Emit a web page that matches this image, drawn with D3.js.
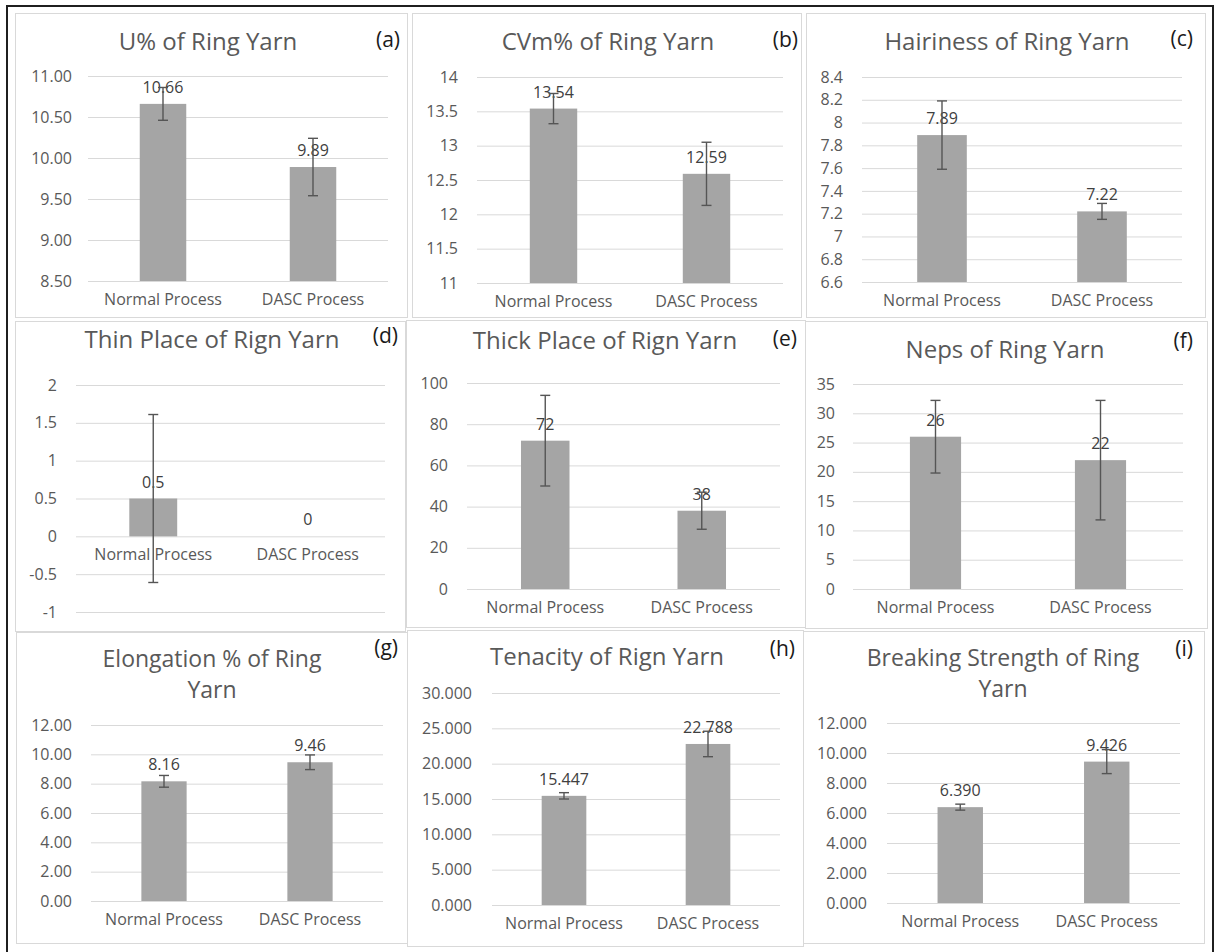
<!DOCTYPE html>
<html lang="en">
<head>
  <meta charset="UTF-8">
  <title>Ring Yarn Properties</title>
  <style>
    body { margin: 0; background: #fff; }
    svg { display: block; font-family: "Open Sans", sans-serif; }
  </style>
</head>
<body>
  <script src="https://d3js.org/d3.v7.min.js"></script>
  <script>
    // categories shared by all nine panels
    const categories = ['Normal Process', 'DASC Process']

    const titles = [
      ['U% of Ring Yarn'], ['CVm% of Ring Yarn'], ['Hairiness of Ring Yarn'],
      ['Thin Place of Rign Yarn'], ['Thick Place of Rign Yarn'], ['Neps of Ring Yarn'],
      ['Elongation % of Ring', 'Yarn'], ['Tenacity of Rign Yarn'], ['Breaking Strength of Ring', 'Yarn']
    ]
    const letters = ['(a)', '(b)', '(c)', '(d)', '(e)', '(f)', '(g)', '(h)', '(i)']

    // values, error bar half-lengths and y ticks per panel
    const uPct = [10.66, 9.89]
    const uPctErr = [0.2, 0.35]
    const uPctTicks = [8.5, 9, 9.5, 10, 10.5, 11]

    const cvm = [13.54, 12.59]
    const cvmErr = [0.22, 0.46]
    const cvmTicks = [11, 11.5, 12, 12.5, 13, 13.5, 14]

    const hairiness = [7.89, 7.22]
    const hairinessErr = [0.3, 0.07]
    const hairinessTicks = [6.6, 6.8, 7, 7.2, 7.4, 7.6, 7.8, 8, 8.2, 8.4]

    const thinPlace = [0.5, 0]
    const thinPlaceErr = [1.11, 0]
    const thinPlaceTicks = [-1, -0.5, 0, 0.5, 1, 1.5, 2]

    const thickPlace = [72, 38]
    const thickPlaceErr = [22, 9]
    const thickPlaceTicks = [0, 20, 40, 60, 80, 100]

    const neps = [26, 22]
    const nepsErr = [6.2, 10.2]
    const nepsTicks = [0, 5, 10, 15, 20, 25, 30, 35]

    const elongation = [8.16, 9.46]
    const elongationErr = [0.4, 0.5]
    const elongationTicks = [0, 2, 4, 6, 8, 10, 12]

    const tenacity = [15.447, 22.788]
    const tenacityErr = [0.45, 1.8]
    const tenacityTicks = [0, 5, 10, 15, 20, 25, 30]

    const strength = [6.390, 9.426]
    const strengthErr = [0.2, 0.8]
    const strengthTicks = [0, 2, 4, 6, 8, 10, 12]

    const tickFormats = ['.2f', '~g', '~g', '~g', 'd', 'd', '.2f', '.3f', '.3f']
    const labelFormats = ['.2f', '.2f', '.2f', '~g', 'd', 'd', '.2f', '.3f', '.3f']

    const series = [
      [uPct, uPctErr, uPctTicks], [cvm, cvmErr, cvmTicks], [hairiness, hairinessErr, hairinessTicks],
      [thinPlace, thinPlaceErr, thinPlaceTicks], [thickPlace, thickPlaceErr, thickPlaceTicks], [neps, nepsErr, nepsTicks],
      [elongation, elongationErr, elongationTicks], [tenacity, tenacityErr, tenacityTicks], [strength, strengthErr, strengthTicks]
    ]

    // page layout: panel box, plot extents, tick label edge, title & letter anchors
    const layout = [
      { box: [15, 13, 392, 304], x: [88, 388], y: [281, 76], tickX: 72, title: [208, 50], letter: [400, 47] },
      { box: [412, 13, 389, 304], x: [477, 783], y: [283, 77], tickX: 458, title: [608, 50], letter: [798, 47] },
      { box: [806, 13, 399, 304], x: [862, 1182], y: [282, 77], tickX: 843, title: [1007, 50], letter: [1193, 46] },
      { box: [15, 321, 390, 310], x: [76, 385], y: [612, 385], tickX: 57, title: [212, 348], letter: [398, 343] },
      { box: [406, 320, 399, 307], x: [467, 780], y: [589, 383], tickX: 448, title: [605, 349], letter: [797, 346] },
      { box: [805, 321, 402, 307], x: [853, 1183], y: [589, 384], tickX: 835, title: [1005, 358], letter: [1193, 348] },
      { box: [16, 632, 391, 311], x: [91, 383], y: [901, 725], tickX: 72, title: [212, 667], letter: [398, 655] },
      { box: [407, 630, 396, 316], x: [492, 780], y: [905, 693], tickX: 472, title: [607, 665], letter: [795, 656] },
      { box: [803, 631, 401, 312], x: [887, 1180], y: [903, 723], tickX: 867, title: [1003, 666], letter: [1193, 656] }
    ]

    const width = 1215
    const height = 952
    const fs = 16

    // hyphen instead of unicode minus, like the original
    const locale = d3.formatLocale({ decimal: '.', thousands: ',', grouping: [3], currency: ['', ''], minus: '-' })

    const svg = d3.select('body').append('svg')
      .attr('width', width)
      .attr('height', height)

    svg.append('rect')
      .attr('width', width).attr('height', height)
      .attr('fill', '#fff')

    series.forEach(function (s, i) {
      let [values, errors, ticks] = s
      let L = layout[i]
      let g = svg.append('g')

      g.append('rect')
        .attr('x', L.box[0] + 0.5).attr('y', L.box[1] + 0.5)
        .attr('width', L.box[2]).attr('height', L.box[3])
        .attr('fill', '#fff')
        .attr('stroke', '#d9d9d9')

      let x = d3.scaleBand(categories, L.x).paddingInner(0.69).paddingOuter(0.345)
      let y = d3.scaleLinear([ticks[0], ticks[ticks.length - 1]], L.y)
      let base = ticks[0] > 0 ? ticks[0] : 0

      // gridlines + tick labels
      g.append('g')
        .attr('transform', `translate(${L.x[0]},0)`)
        .call(d3.axisLeft(y)
          .tickValues(ticks)
          .tickSize(-(L.x[1] - L.x[0]))
          .tickPadding(L.x[0] - L.tickX)
          .tickFormat(locale.format(tickFormats[i])))
        .call(a => a.select('.domain').remove())
        .call(a => a.selectAll('.tick line').attr('stroke', '#d9d9d9'))
        .call(a => a.selectAll('.tick text')
          .attr('fill', '#595959')
          .attr('font-size', fs)
          .attr('font-family', '"Open Sans", sans-serif'))

      // category labels sit under the base line
      g.append('g')
        .attr('transform', `translate(0,${y(base)})`)
        .call(d3.axisBottom(x).tickSize(0).tickPadding(24 - 0.71 * fs))
        .call(a => a.select('.domain').remove())
        .call(a => a.selectAll('.tick text')
          .attr('fill', '#595959')
          .attr('font-size', fs)
          .attr('font-family', '"Open Sans", sans-serif'))

      let rows = categories.map((c, j) => ({ c: c, v: values[j], e: errors[j] }))

      g.selectAll('.bar')
        .data(rows)
        .join('rect')
        .attr('class', 'bar')
        .attr('x', d => x(d.c))
        .attr('width', x.bandwidth())
        .attr('y', d => y(Math.max(d.v, base)))
        .attr('height', d => Math.abs(y(d.v) - y(base)))
        .attr('fill', '#a5a5a5')

      let fmt = locale.format(labelFormats[i])
      g.selectAll('.val')
        .data(rows)
        .join('text')
        .attr('class', 'val')
        .attr('x', d => x(d.c) + x.bandwidth() / 2)
        .attr('y', d => y(d.v) - 11)
        .attr('text-anchor', 'middle')
        .attr('font-size', fs)
        .attr('fill', '#404040')
        .text(d => fmt(d.v))

      // error bars drawn over the labels
      let eb = g.selectAll('.err')
        .data(rows.filter(d => d.e > 0))
        .join('g')
        .attr('class', 'err')
        .attr('stroke', '#555')
        .attr('stroke-width', 1.4)
      eb.append('line')
        .attr('x1', d => x(d.c) + x.bandwidth() / 2)
        .attr('x2', d => x(d.c) + x.bandwidth() / 2)
        .attr('y1', d => y(d.v + d.e))
        .attr('y2', d => y(d.v - d.e))
      eb.selectAll('.cap')
        .data(d => [[d, d.v + d.e], [d, d.v - d.e]])
        .join('line')
        .attr('class', 'cap')
        .attr('x1', p => x(p[0].c) + x.bandwidth() / 2 - 5)
        .attr('x2', p => x(p[0].c) + x.bandwidth() / 2 + 5)
        .attr('y1', p => y(p[1]))
        .attr('y2', p => y(p[1]))

      // title (one or two lines); wrapped titles a touch smaller so lines don't collide
      let twoLines = titles[i].length > 1
      g.append('text')
        .attr('x', L.title[0])
        .attr('y', L.title[1])
        .attr('text-anchor', 'middle')
        .attr('font-size', twoLines ? 23 : 24)
        .attr('fill', '#595959')
        .selectAll('tspan')
        .data(titles[i])
        .join('tspan')
        .attr('x', L.title[0])
        .attr('dy', (d, k) => k === 0 ? 0 : 31)
        .text(d => d)

      g.append('text')
        .attr('x', L.letter[0])
        .attr('y', L.letter[1])
        .attr('text-anchor', 'end')
        .attr('font-size', 21)
        .attr('fill', '#1a1a1a')
        .text(letters[i])
    })

    // dark outer frame
    svg.append('rect')
      .attr('x', 7).attr('y', 6)
      .attr('width', 1206).attr('height', 960)
      .attr('fill', 'none')
      .attr('stroke', '#1f1f1f')
      .attr('stroke-width', 2)
  </script>
</body>
</html>
